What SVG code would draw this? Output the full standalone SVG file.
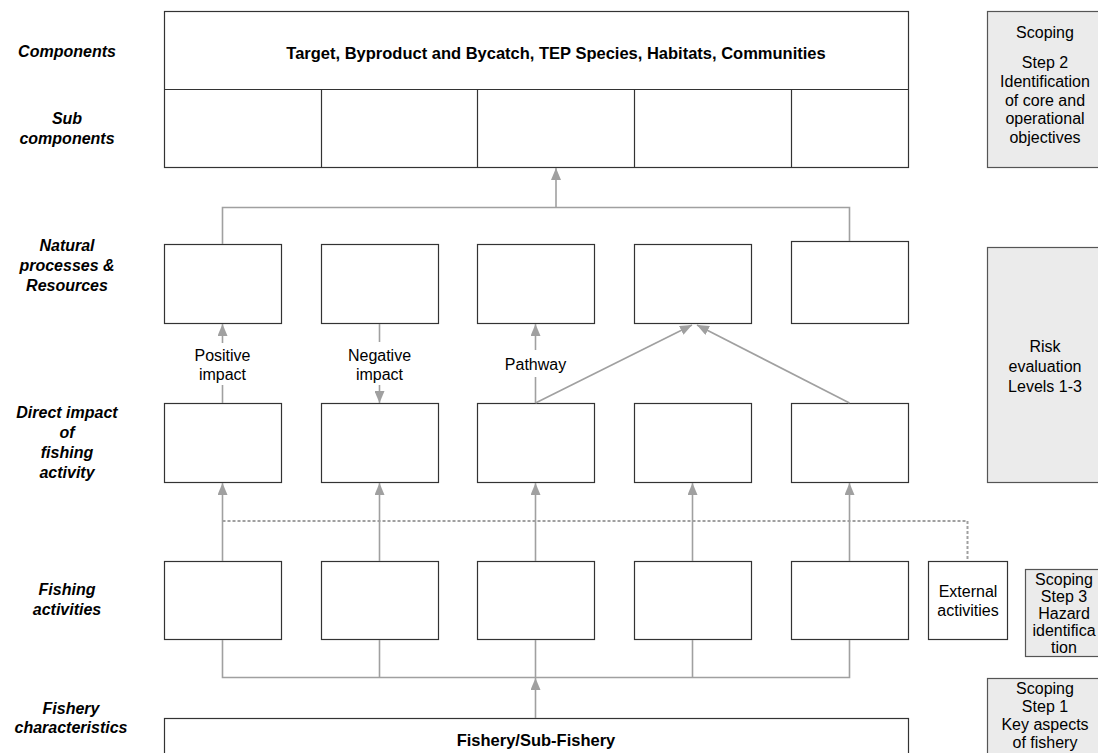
<svg xmlns="http://www.w3.org/2000/svg" width="1098" height="753" viewBox="0 0 1098 753">
<defs>
<style>
.lbl{font-family:"Liberation Sans",Arial,sans-serif;font-size:16px;font-weight:bold;font-style:italic;fill:#000;text-anchor:middle}
.t{font-family:"Liberation Sans",Arial,sans-serif;font-size:16px;fill:#000;text-anchor:middle}
.tb{font-family:"Liberation Sans",Arial,sans-serif;font-size:16.5px;font-weight:bold;fill:#000;text-anchor:middle}
.box{fill:#fff;stroke:#333;stroke-width:1.2}
.side{fill:#ebebeb;stroke:#555;stroke-width:1.2}
.c{fill:none;stroke:#a0a0a0;stroke-width:1.6}
.d{fill:none;stroke:#a0a0a0;stroke-width:2;stroke-dasharray:3 2}
</style>
<marker id="ah" viewBox="0 0 12 10" refX="12" refY="5" markerWidth="12" markerHeight="10" markerUnits="userSpaceOnUse" orient="auto">
<path d="M0,0 L12,5 L0,10 z" fill="#a0a0a0"/>
</marker>
</defs>
<rect width="1098" height="753" fill="#fff"/>

<g id="labels">
<text class="lbl" x="67" y="57">Components</text>
<text class="lbl" x="67" y="124">Sub</text>
<text class="lbl" x="67" y="144">components</text>
<text class="lbl" x="67" y="251">Natural</text>
<text class="lbl" x="67" y="271">processes &amp;</text>
<text class="lbl" x="67" y="291">Resources</text>
<text class="lbl" x="67" y="418">Direct impact</text>
<text class="lbl" x="67" y="438">of</text>
<text class="lbl" x="67" y="458">fishing</text>
<text class="lbl" x="67" y="478">activity</text>
<text class="lbl" x="67" y="595">Fishing</text>
<text class="lbl" x="67" y="615">activities</text>
<text class="lbl" x="71" y="714">Fishery</text>
<text class="lbl" x="71" y="733">characteristics</text>
</g>

<g id="components">
<rect class="box" x="164.5" y="11.5" width="744" height="156"/>
<line x1="164.5" y1="89.5" x2="908.5" y2="89.5" stroke="#333" stroke-width="1.2"/>
<line x1="321.5" y1="89.5" x2="321.5" y2="167.5" stroke="#333" stroke-width="1.2"/>
<line x1="477.5" y1="89.5" x2="477.5" y2="167.5" stroke="#333" stroke-width="1.2"/>
<line x1="634.5" y1="89.5" x2="634.5" y2="167.5" stroke="#333" stroke-width="1.2"/>
<line x1="791.5" y1="89.5" x2="791.5" y2="167.5" stroke="#333" stroke-width="1.2"/>
<text class="tb" x="556" y="59">Target, Byproduct and Bycatch, TEP Species, Habitats, Communities</text>
</g>

<g id="natural">
<rect class="box" x="164.5" y="244.5" width="117" height="79"/>
<rect class="box" x="321.5" y="244.5" width="117" height="79"/>
<rect class="box" x="477.5" y="244.5" width="117" height="79"/>
<rect class="box" x="634.5" y="244.5" width="117" height="79"/>
<rect class="box" x="791.5" y="241.5" width="117" height="82"/>
</g>

<g id="direct">
<rect class="box" x="164.5" y="403.5" width="117" height="79"/>
<rect class="box" x="321.5" y="403.5" width="117" height="79"/>
<rect class="box" x="477.5" y="403.5" width="117" height="79"/>
<rect class="box" x="634.5" y="403.5" width="117" height="79"/>
<rect class="box" x="791.5" y="403.5" width="117" height="79"/>
</g>

<g id="fishing">
<rect class="box" x="164.5" y="561.5" width="117" height="78"/>
<rect class="box" x="321.5" y="561.5" width="117" height="78"/>
<rect class="box" x="477.5" y="561.5" width="117" height="78"/>
<rect class="box" x="634.5" y="561.5" width="117" height="78"/>
<rect class="box" x="791.5" y="561.5" width="117" height="78"/>
</g>

<g id="external">
<rect class="box" x="928.5" y="561.5" width="79" height="78"/>
<text class="t" x="968" y="597">External</text>
<text class="t" x="968" y="616">activities</text>
</g>

<g id="fishery">
<rect class="box" x="164.5" y="718.5" width="744" height="60"/>
<text class="tb" x="536" y="746">Fishery/Sub-Fishery</text>
</g>

<g id="side">
<rect class="side" x="987.5" y="11.5" width="120" height="156"/>
<text class="t" x="1045" y="38">Scoping</text>
<text class="t" x="1045" y="68">Step 2</text>
<text class="t" x="1045" y="87">Identification</text>
<text class="t" x="1045" y="106">of core and</text>
<text class="t" x="1045" y="124">operational</text>
<text class="t" x="1045" y="143">objectives</text>

<rect class="side" x="987.5" y="247.5" width="120" height="235"/>
<text class="t" x="1045" y="352">Risk</text>
<text class="t" x="1045" y="372">evaluation</text>
<text class="t" x="1045" y="392">Levels 1-3</text>

<rect class="side" x="1025.5" y="569.5" width="90" height="87"/>
<text class="t" x="1064" y="585">Scoping</text>
<text class="t" x="1064" y="602">Step 3</text>
<text class="t" x="1064" y="619">Hazard</text>
<text class="t" x="1064" y="636">identifica</text>
<text class="t" x="1064" y="653">tion</text>

<rect class="side" x="987.5" y="678.5" width="120" height="90"/>
<text class="t" x="1045" y="694">Scoping</text>
<text class="t" x="1045" y="712">Step 1</text>
<text class="t" x="1045" y="730">Key aspects</text>
<text class="t" x="1045" y="748">of fishery</text>
</g>

<g id="connectors">
<path class="c" d="M222.5,244 V207.5 H849.5 V241"/>
<path class="c" d="M556,207.5 V168" marker-end="url(#ah)"/>
<path class="c" d="M222.5,403 V385"/>
<path class="c" d="M222.5,343 V324" marker-end="url(#ah)"/>
<path class="c" d="M379.5,324 V342"/>
<path class="c" d="M379.5,385 V403" marker-end="url(#ah)"/>
<path class="c" d="M535.5,403 V377"/>
<path class="c" d="M535.5,350 V324" marker-end="url(#ah)"/>
<path class="c" d="M535.5,403 L692,325" marker-end="url(#ah)"/>
<path class="c" d="M849.5,403 L697,325" marker-end="url(#ah)"/>
<path class="c" d="M222.5,561 V483" marker-end="url(#ah)"/>
<path class="c" d="M379.5,561 V483" marker-end="url(#ah)"/>
<path class="c" d="M535.5,561 V483" marker-end="url(#ah)"/>
<path class="c" d="M692.5,561 V483" marker-end="url(#ah)"/>
<path class="c" d="M849.5,561 V483" marker-end="url(#ah)"/>
<path class="d" d="M222.5,521 H967.5 V561"/>
<path class="c" d="M222.5,640 V677.5 H849.5 V640"/>
<path class="c" d="M379.5,640 V677.5"/>
<path class="c" d="M535.5,640 V677.5"/>
<path class="c" d="M692.5,640 V677.5"/>
<path class="c" d="M535.5,718 V678" marker-end="url(#ah)"/>
<text class="t" x="222.5" y="361">Positive</text>
<text class="t" x="222.5" y="380">impact</text>
<text class="t" x="379.5" y="361">Negative</text>
<text class="t" x="379.5" y="380">impact</text>
<text class="t" x="535.5" y="370">Pathway</text>
</g>
</svg>
